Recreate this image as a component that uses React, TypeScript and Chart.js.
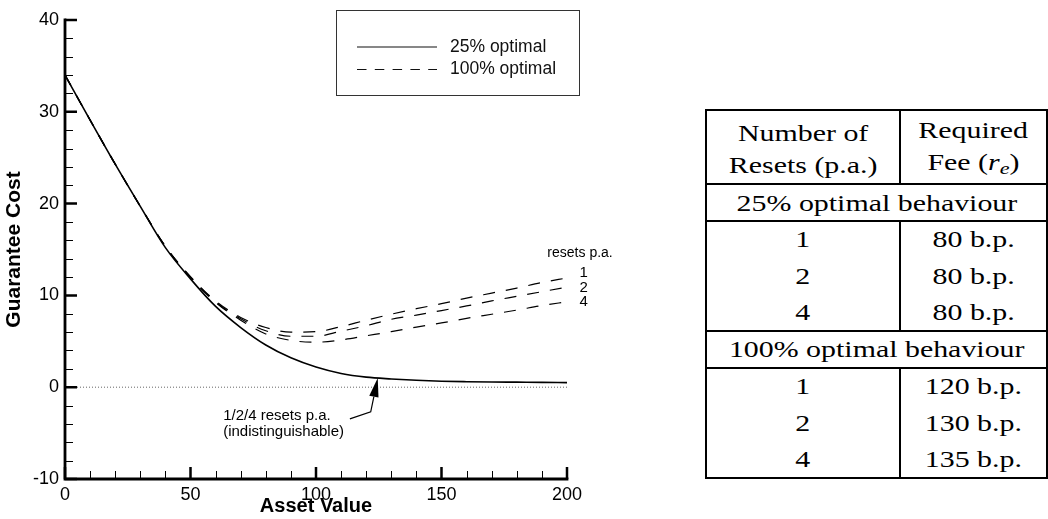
import React, { useEffect, useRef } from "react";
import { Chart, registerables } from "chart.js";

Chart.register(...registerables);

// ---------- data ----------
const assetValue = [0, 10, 20, 30, 40, 50, 60, 70, 80, 90, 100, 110, 120, 130, 140, 150, 160, 170, 180, 190, 200];
const cost25Optimal = [34, 29.1, 24.3, 19.7, 15.2, 11.8, 8.8, 6.5, 4.6, 3.2, 2.2, 1.5, 1.1, 0.9, 0.75, 0.65, 0.6, 0.57, 0.55, 0.53, 0.5];
const cost100Reset1 = [34, 29.1, 24.3, 19.7, 15.35, 12.05, 9.4, 7.6, 6.5, 6.0, 6.05, 6.6, 7.3, 7.95, 8.55, 9.1, 9.7, 10.25, 10.8, 11.4, 11.9];
const cost100Reset2 = [34, 29.1, 24.3, 19.7, 15.35, 12.0, 9.3, 7.45, 6.15, 5.55, 5.55, 6.1, 6.7, 7.4, 7.85, 8.35, 8.85, 9.4, 9.9, 10.4, 10.9];
const cost100Reset4 = [34, 29.1, 24.3, 19.7, 15.3, 11.95, 9.25, 7.3, 5.8, 5.1, 4.9, 5.15, 5.6, 6.05, 6.55, 7.0, 7.5, 7.95, 8.4, 8.9, 9.3];
const zeroLineX = [0, 200];
const zeroLineY = [0, 0];

const xMin = 0;
const xMax = 200;
const yMin = -10;
const yMax = 40;
const xMajorStep = 50;
const xMinorStep = 10;
const yMajorStep = 10;
const yMinorStep = 2;

const xTitle = "Asset Value";
const yTitle = "Guarantee Cost";
const legendLabels = ["25% optimal", "100% optimal"];
const resetsHeading = "resets p.a.";
const resetLabels = ["1", "2", "4"];
const noteLines = ["1/2/4 resets p.a.", "(indistinguishable)"];

// annotation anchors (data units)
const resetsHeadingAt = { x: 205.2, y: 14.6 };
const resetLabelX = 206.6;
const resetLabelY = [12.5, 10.85, 9.27];
const noteAt = { x: 63.0, y: -3.16 };
const arrowPathX = [113.5, 121.8, 124.6];
const arrowPathY = [-3.45, -2.68, 1.0];

// table
const headerCol1 = ["Number of", "Resets (p.a.)"];
const headerCol2 = ["Required", "Fee"];
const sectionTitles = ["25% optimal behaviour", "100% optimal behaviour"];
const resetCounts = ["1", "2", "4"];
const fees25 = ["80 b.p.", "80 b.p.", "80 b.p."];
const fees100 = ["120 b.p.", "130 b.p.", "135 b.p."];

const SANS = '"Liberation Sans", Arial, Helvetica, sans-serif';
const SERIF = '"Liberation Serif", "Times New Roman", serif';

function pts(xs: number[], ys: number[]) {
  return xs.map((x, i) => ({ x, y: ys[i] }));
}

const overlayPlugin = {
  id: "overlay",
  afterDatasetsDraw(chart: any) {
    const { ctx, chartArea, scales } = chart;
    const { left, right, top, bottom } = chartArea;
    const xs = scales.x;
    const ys = scales.y;
    ctx.save();
    ctx.strokeStyle = "#000";
    ctx.fillStyle = "#000";

    // minor ticks
    ctx.lineWidth = 1;
    ctx.beginPath();
    for (let v = yMin; v <= yMax; v += yMinorStep) {
      if (v % yMajorStep === 0) continue;
      const py = Math.round(ys.getPixelForValue(v)) + 0.5;
      ctx.moveTo(left, py);
      ctx.lineTo(left + 8, py);
    }
    for (let v = xMin; v <= xMax; v += xMinorStep) {
      if (v % xMajorStep === 0) continue;
      const px = Math.round(xs.getPixelForValue(v)) + 0.5;
      ctx.moveTo(px, bottom);
      ctx.lineTo(px, bottom - 8);
    }
    ctx.stroke();

    // major ticks
    ctx.lineWidth = 2.5;
    ctx.beginPath();
    for (let v = yMin; v <= yMax; v += yMajorStep) {
      const py = ys.getPixelForValue(v);
      ctx.moveTo(left, py);
      ctx.lineTo(left + 12, py);
    }
    for (let v = xMin; v <= xMax; v += xMajorStep) {
      const px = xs.getPixelForValue(v);
      ctx.moveTo(px, bottom);
      ctx.lineTo(px, bottom - 12);
    }
    ctx.stroke();

    // axis lines
    ctx.lineWidth = 2.8;
    ctx.lineCap = "square";
    ctx.beginPath();
    ctx.moveTo(left, top);
    ctx.lineTo(left, bottom);
    ctx.lineTo(right, bottom);
    ctx.stroke();
    ctx.lineCap = "butt";

    // legend box
    ctx.lineWidth = 1;
    ctx.strokeStyle = "#333";
    ctx.strokeRect(336.5, 10.5, 243, 85);
    ctx.strokeStyle = "#111";
    ctx.lineWidth = 1.1;
    ctx.beginPath();
    ctx.moveTo(357, 47);
    ctx.lineTo(437, 47);
    ctx.stroke();
    ctx.setLineDash([9.5, 8.3]);
    ctx.beginPath();
    ctx.moveTo(357, 69.5);
    ctx.lineTo(437, 69.5);
    ctx.stroke();
    ctx.setLineDash([]);
    ctx.font = `17.5px ${SANS}`;
    ctx.textAlign = "left";
    ctx.textBaseline = "middle";
    ctx.fillStyle = "#111";
    ctx.fillText(legendLabels[0], 450, 47);
    ctx.fillText(legendLabels[1], 450, 69.5);

    // resets heading and labels
    ctx.fillStyle = "#000";
    ctx.font = `14px ${SANS}`;
    ctx.textAlign = "center";
    ctx.fillText(resetsHeading, xs.getPixelForValue(resetsHeadingAt.x), ys.getPixelForValue(resetsHeadingAt.y));
    ctx.font = `15px ${SANS}`;
    resetLabels.forEach((t, i) => {
      ctx.fillText(t, xs.getPixelForValue(resetLabelX), ys.getPixelForValue(resetLabelY[i]));
    });

    // note
    ctx.font = `15px ${SANS}`;
    ctx.textAlign = "left";
    const nx = xs.getPixelForValue(noteAt.x);
    const ny = ys.getPixelForValue(noteAt.y);
    noteLines.forEach((t, i) => ctx.fillText(t, nx, ny + i * 16));

    // arrow
    const ax = arrowPathX.map((v) => xs.getPixelForValue(v));
    const ay = arrowPathY.map((v) => ys.getPixelForValue(v));
    const tipX = ax[2];
    const tipY = ay[2];
    const dx = tipX - ax[1];
    const dy = tipY - ay[1];
    const len = Math.hypot(dx, dy);
    const ux = dx / len;
    const uy = dy / len;
    const headLen = 19;
    const half = 4.7;
    const bx = tipX - ux * headLen;
    const by = tipY - uy * headLen;
    ctx.strokeStyle = "#000";
    ctx.lineWidth = 1.2;
    ctx.beginPath();
    ctx.moveTo(ax[0], ay[0]);
    ctx.lineTo(ax[1], ay[1]);
    ctx.lineTo(bx, by);
    ctx.stroke();
    ctx.beginPath();
    ctx.moveTo(tipX, tipY);
    ctx.lineTo(bx - uy * half, by + ux * half);
    ctx.lineTo(bx + uy * half, by - ux * half);
    ctx.closePath();
    ctx.fill();

    ctx.restore();
  },
};

function ChartPanel() {
  const ref = useRef<HTMLCanvasElement | null>(null);
  useEffect(() => {
    if (!ref.current) return;
    const dashed = {
      borderColor: "#000",
      borderWidth: 1.2,
      borderDash: [12, 11],
      pointRadius: 0,
      cubicInterpolationMode: "monotone" as const,
      fill: false,
    };
    const chart = new Chart(ref.current, {
      type: "line",
      data: {
        datasets: [
          {
            label: "zero",
            data: pts(zeroLineX, zeroLineY),
            borderColor: "#666",
            borderWidth: 1,
            borderDash: [1, 2],
            pointRadius: 0,
            fill: false,
          },
          { label: "100% optimal, 1 reset", data: pts(assetValue, cost100Reset1), ...dashed },
          { label: "100% optimal, 2 resets", data: pts(assetValue, cost100Reset2), ...dashed },
          { label: "100% optimal, 4 resets", data: pts(assetValue, cost100Reset4), ...dashed },
          {
            label: "25% optimal",
            data: pts(assetValue, cost25Optimal),
            borderColor: "#000",
            borderWidth: 1.6,
            pointRadius: 0,
            cubicInterpolationMode: "monotone",
            fill: false,
          },
        ],
      },
      options: {
        animation: false,
        responsive: false,
        maintainAspectRatio: false,
        layout: { padding: { left: 0, right: 73, top: 20, bottom: 0 } },
        plugins: {
          legend: { display: false },
          tooltip: { enabled: false },
          title: { display: false },
        },
        elements: { point: { radius: 0 } },
        scales: {
          x: {
            type: "linear",
            min: xMin,
            max: xMax,
            grid: { display: false, drawTicks: false },
            border: { display: false },
            ticks: {
              stepSize: xMajorStep,
              color: "#000",
              padding: 5,
              maxRotation: 0,
              autoSkip: false,
              font: { family: SANS, size: 18 },
            },
            title: {
              display: true,
              text: xTitle,
              color: "#000",
              font: { family: SANS, size: 20, weight: "bold" },
              padding: { top: 0, bottom: 1 },
            },
            afterFit: (s: any) => {
              s.height = 40;
            },
          },
          y: {
            type: "linear",
            min: yMin,
            max: yMax,
            grid: { display: false, drawTicks: false },
            border: { display: false },
            ticks: {
              stepSize: yMajorStep,
              color: "#000",
              padding: 6,
              font: { family: SANS, size: 18 },
            },
            title: {
              display: true,
              text: yTitle,
              color: "#000",
              font: { family: SANS, size: 21, weight: "bold" },
              padding: { top: 2, bottom: 0 },
            },
            afterFit: (s: any) => {
              s.width = 65;
            },
          },
        },
      },
      plugins: [overlayPlugin],
    });
    return () => chart.destroy();
  }, []);
  return <canvas ref={ref} width={640} height={519} style={{ position: "absolute", left: 0, top: 0 }} />;
}

const stretch: React.CSSProperties = { display: "inline-block", transform: "scaleX(1.3)", whiteSpace: "nowrap" };

function Cell({ children, left, width, top, height }: any) {
  return (
    <div
      style={{
        position: "absolute",
        left,
        width,
        top,
        height,
        display: "flex",
        flexDirection: "column",
        alignItems: "center",
        justifyContent: "center",
        lineHeight: "32px",
      }}
    >
      {children}
    </div>
  );
}

function FeeTable() {
  const L = 706;
  const T = 110;
  const W = 341;
  const c1 = 194;
  const headerH = 74;
  const secH = 37;
  const dataH = 36.6;
  const rule = (y: number, key: string) => (
    <div key={key} style={{ position: "absolute", left: 0, width: W, top: y - 1, height: 2, background: "#000" }} />
  );
  const vrule = (y0: number, y1: number, key: string) => (
    <div key={key} style={{ position: "absolute", left: c1 - 1, width: 2, top: y0, height: y1 - y0, background: "#000" }} />
  );
  const s1 = headerH;
  const d1 = s1 + secH;
  const s2 = d1 + 3 * dataH;
  const d2 = s2 + secH;
  const end = d2 + 3 * dataH;
  const els: any[] = [];
  els.push(rule(0, "r0"), rule(s1, "r1"), rule(d1, "r2"), rule(s2, "r3"), rule(d2, "r4"), rule(end, "r5"));
  els.push(
    <div key="lv" style={{ position: "absolute", left: -1, width: 2, top: -1, height: end + 2, background: "#000" }} />,
    <div key="rv" style={{ position: "absolute", left: W - 1, width: 2, top: -1, height: end + 2, background: "#000" }} />
  );
  els.push(vrule(0, s1, "v1"), vrule(d1, s2, "v2"), vrule(d2, end, "v3"));
  els.push(
    <Cell key="h1" left={0} width={c1} top={6} height={headerH - 6}>
      {headerCol1.map((t) => (
        <span key={t} style={stretch}>{t}</span>
      ))}
    </Cell>,
    <Cell key="h2" left={c1} width={W - c1} top={6} height={headerH - 6}>
      <span style={stretch}>{headerCol2[0]}</span>
      <span style={stretch}>
        {headerCol2[1]} (<i>r</i>
        <sub style={{ fontSize: 17, verticalAlign: "-4px" }}>
          <i>e</i>
        </sub>
        )
      </span>
    </Cell>
  );
  const sections = [
    { top: s1, dataTop: d1, fees: fees25, title: sectionTitles[0] },
    { top: s2, dataTop: d2, fees: fees100, title: sectionTitles[1] },
  ];
  sections.forEach((sec, si) => {
    els.push(
      <Cell key={`s${si}`} left={0} width={W} top={sec.top + 1} height={secH}>
        <span style={stretch}>{sec.title}</span>
      </Cell>
    );
    resetCounts.forEach((r, i) => {
      els.push(
        <Cell key={`a${si}${i}`} left={0} width={c1} top={sec.dataTop + i * dataH + 1} height={dataH}>
          <span style={stretch}>{r}</span>
        </Cell>,
        <Cell key={`b${si}${i}`} left={c1} width={W - c1} top={sec.dataTop + i * dataH + 1} height={dataH}>
          <span style={stretch}>{sec.fees[i]}</span>
        </Cell>
      );
    });
  });
  return (
    <div
      style={{
        position: "absolute",
        left: L,
        top: T,
        width: W,
        height: end,
        fontFamily: SERIF,
        fontSize: 23,
        color: "#000",
      }}
    >
      {els}
    </div>
  );
}

export default function App() {
  return (
    <div style={{ position: "fixed", left: 0, top: 0, width: 1048, height: 519, background: "#fff", overflow: "hidden" }}>
      <ChartPanel />
      <FeeTable />
    </div>
  );
}
